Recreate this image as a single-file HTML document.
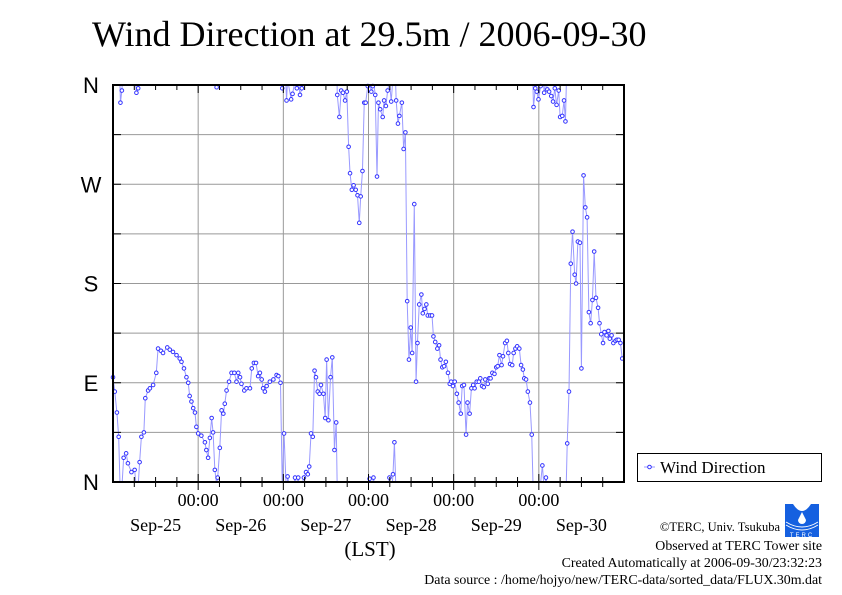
<!DOCTYPE html>
<html><head><meta charset="utf-8"><style>
html,body{margin:0;padding:0;background:#fff;}
body{width:842px;height:595px;overflow:hidden;}
svg{display:block;}
</style></head><body>
<svg id="chart" width="842" height="595" viewBox="0 0 842 595" xmlns="http://www.w3.org/2000/svg">
<text x="92" y="46" font-family="Liberation Serif, serif" font-size="36" fill="#000">Wind Direction at 29.5m / 2006-09-30</text>
<g id="grid"></g>
<g id="series"></g>
<rect x="113" y="85" width="511" height="397" fill="none" stroke="#000" stroke-width="2"/>
<g id="axes"></g>
<text x="370" y="556" font-family="Liberation Serif, serif" font-size="21" text-anchor="middle">(LST)</text>
<g>
<rect x="637.5" y="453.5" width="184" height="28" fill="#fff" stroke="#000" stroke-width="1"/>
<line x1="644" y1="467" x2="655" y2="467" stroke="#99f" stroke-width="1"/>
<circle cx="649.5" cy="467" r="1.8" fill="#fff" stroke="#33f" stroke-width="1"/>
<text x="660" y="473" font-family="Liberation Serif, serif" font-size="17">Wind Direction</text>
</g>
<g>
<rect x="785" y="504" width="34" height="33" fill="#1560e0"/>
<path d="M793 504 Q802 518 811 504 Z" fill="#fff"/>
<path d="M802 512 L798 520 A4 4 0 0 0 806 520 Z" fill="#fff"/>
<path d="M786 522 Q802 532 818 522 M786 525 Q802 535 818 525" stroke="#fff" stroke-width="1" fill="none"/>
<text x="802" y="537" font-family="Liberation Sans, sans-serif" font-size="6" fill="#fff" text-anchor="middle" letter-spacing="2">TERC</text>
</g>
<g font-family="Liberation Serif, serif" font-size="13.9" text-anchor="end">
<text x="780" y="531" font-size="12.5">©TERC, Univ. Tsukuba</text>
<text x="822" y="550">Observed at TERC Tower site</text>
<text x="822" y="567">Created Automatically at 2006-09-30/23:32:23</text>
<text x="822" y="584">Data source : /home/hojyo/new/TERC-data/sorted_data/FLUX.30m.dat</text>
</g>
</svg>
<script>
const hours=[0,0.5,1.1,1.6,2.1,2.5,3.0,3.7,4.2,5.2,6.1,6.6,7.1,7.5,8.0,8.7,9.1,9.9,10.4,11.3,12.2,12.7,13.5,14.1,15.3,16.0,16.9,17.9,18.8,19.3,20.0,20.7,21.2,21.6,22.1,22.6,23.1,23.5,
24.0,24.9,25.9,26.3,26.8,27.3,27.8,28.2,28.7,29.2,29.5,30.1,30.6,31.1,31.5,32.0,32.7,33.4,34.2,34.8,35.3,35.8,36.2,37.0,37.6,38.6,39.1,39.7,40.3,40.9,41.4,41.9,42.3,42.8,43.3,44.2,45.2,46.1,46.6,47.2,47.7,48.2,48.9,49.2,
50.2,50.6,51.3,51.8,52.2,52.7,53.2,53.8,54.4,54.9,55.3,55.8,56.3,56.8,57.2,57.7,58.2,58.6,59.3,59.8,60.2,60.7,61.3,61.8,62.4,62.9,63.2,63.8,64.3,64.8,65.4,65.9,66.4,66.8,67.3,67.8,68.4,68.9,69.4,69.8,70.3,70.8,71.2,71.8,72.3,72.8,73.2,73.4,73.9,74.4,74.8,75.3,76.0,76.4,76.9,77.4,77.9,78.4,78.9,79.3,79.8,80.3,80.7,81.4,81.9,82.4,82.9,83.4,83.9,84.3,84.9,85.4,85.8,86.3,86.9,87.3,87.8,88.3,88.7,89.4,89.9,90.3,90.8,91.4,91.9,92.3,92.8,93.3,93.8,94.4,94.9,95.3,95.8,96.3,96.9,97.4,
98.0,98.4,98.9,99.5,99.9,100.5,101.0,101.5,101.9,102.5,103.1,103.5,104.0,104.5,104.9,105.6,106.0,106.4,106.9,107.5,108.0,108.4,108.9,109.5,109.9,110.5,111.0,111.4,111.9,112.5,112.9,113.4,113.9,114.5,115.0,115.5,115.9,116.4,116.9,117.5,118.0,118.5,119.0,119.4,119.9,120.5,121.0,121.5,122.0,122.4,122.9,123.5,124.0,124.5,125.0,125.6,126.0,126.6,127.1,127.5,128.0,128.5,129.0,129.5,130.1,130.5,131.0,131.6,132.0,132.6,133.1,133.6,134.1,134.6,135.1,135.6,136.1,136.7,137.1,137.6,138.1,138.5,139.1,139.6,140.0,140.5,141.0,141.6,142.0,142.5,143.0,143.5];
const directions=[95,82,63,41,344,355,22,26,17,9,11,353,357,18,41,45,76,83,85,88,99,121,119,117,122,120,118,115,112,109,103,95,90,78,73,67,63,50,
44,42,36,29,22,40,58,45,11,358,4,31,65,62,71,83,91,99,99,91,99,95,89,83,85,85,103,108,108,96,99,93,85,82,87,91,93,97,96,90,357,44,346,5,
347,352,4,357,4,351,357,4,9,7,14,44,41,101,95,82,80,88,80,58,111,56,95,113,29,54,351,331,355,353,346,354,304,280,265,269,265,260,235,259,282,344,344,359,3,354,359,4,351,277,344,338,331,346,341,355,4,345,7,36,346,325,332,344,302,317,164,111,140,117,252,91,126,161,170,153,157,161,151,151,151,132,127,121,124,111,104,105,109,99,89,91,87,91,80,72,
62,87,88,43,72,62,85,88,85,91,91,94,87,86,93,89,94,94,99,98,104,105,115,106,114,126,128,117,107,106,117,121,123,121,106,102,94,93,82,72,43,340,357,354,347,359,15,353,4,356,354,350,345,357,342,355,331,332,346,327,35,82,198,227,188,180,218,217,103,278,249,240,154,144,165,209,167,158,144,134,126,136,133,137,130,133,126,128,129,129,126,112];
const yTickLabels=["N","E","S","W","N"];
const yTickValues=[0,90,180,270,360];
const xTimeLabels=["00:00","00:00","00:00","00:00","00:00"];
const xTimeHours=[24,48,72,96,120];
const xDateLabels=["Sep-25","Sep-26","Sep-27","Sep-28","Sep-29","Sep-30"];
const xDateHours=[12,36,60,84,108,132];

const L=113,R=624,T=85,B=482,HMAX=144;
const NS="http://www.w3.org/2000/svg";
function xs(h){return L+h*(R-L)/HMAX;}
function ys(d){return B-d*(B-T)/360;}
function mk(tag,attrs,parent){const e=document.createElementNS(NS,tag);for(const k in attrs)e.setAttribute(k,attrs[k]);parent.appendChild(e);return e;}
const grid=document.getElementById('grid'),axes=document.getElementById('axes'),ser=document.getElementById('series');

for(let d=45;d<360;d+=45){
  const g=mk('line',{x1:L,x2:R,y1:ys(d),y2:ys(d),stroke:'#999','stroke-width':1},grid);
  
  
  for(const [a,b] of [[L,L+8],[R-8,R]]){const t=mk('line',{x1:a,x2:b,y1:ys(d),y2:ys(d),stroke:'#000','stroke-width':1},axes);
  
  }
}
for(let h=24;h<HMAX;h+=24){
  const g=mk('line',{x1:xs(h),x2:xs(h),y1:T,y2:B,stroke:'#999','stroke-width':1},grid);
  
  
}
for(let h=6;h<HMAX;h+=6){
  const len=h%24===0?8:5;
  for(const [a,b] of [[T,T+len],[B-len,B],[B,B+len]]){const t=mk('line',{x1:xs(h),x2:xs(h),y1:a,y2:b,stroke:'#000','stroke-width':1},axes);
  
  }
}
yTickValues.forEach((v,i)=>{
  const t=mk('text',{x:91,y:ys(v)+8,'font-family':'Liberation Sans, sans-serif','font-size':22,'text-anchor':'middle'},axes);
  t.textContent=yTickLabels[i];
  
  
});
xTimeHours.forEach((h,i)=>{
  const t=mk('text',{x:xs(h),y:506,'font-family':'Liberation Serif, serif','font-size':18,'text-anchor':'middle'},axes);
  t.textContent=xTimeLabels[i];
  
  
});
xDateHours.forEach((h,i)=>{
  const t=mk('text',{x:xs(h),y:531,'font-family':'Liberation Serif, serif','font-size':18,'text-anchor':'middle'},axes);
  t.textContent=xDateLabels[i];
  
  
});

mk('clipPath',{id:'pc'},ser).appendChild(document.createElementNS(NS,'rect'));
const cr=ser.querySelector('clipPath rect');cr.setAttribute('x',L);cr.setAttribute('y',T);cr.setAttribute('width',R-L);cr.setAttribute('height',B-T);
const lg=mk('g',{'clip-path':'url(#pc)'},ser);
let dstr='';
for(let i=1;i<hours.length;i++){
  const x1=xs(hours[i-1]),x2=xs(hours[i]);let a=directions[i-1],b=directions[i];
  if(Math.abs(b-a)<=180){dstr+=`M${x1} ${ys(a)}L${x2} ${ys(b)}`;}
  else{const b2=b>a?b-360:b+360,a2=a>b?a-360:a+360;
    dstr+=`M${x1} ${ys(a)}L${x2} ${ys(b2)}M${x1} ${ys(a2)}L${x2} ${ys(b)}`;}
}
const ln=mk('path',{d:dstr,fill:'none',stroke:'#99f','stroke-width':1},lg);


hours.forEach((h,i)=>{
  const c=mk('circle',{cx:xs(h),cy:ys(directions[i]),r:1.8,fill:'#fff',stroke:'#33f','stroke-width':1},ser);
  
  
});
</script>
</body></html>
